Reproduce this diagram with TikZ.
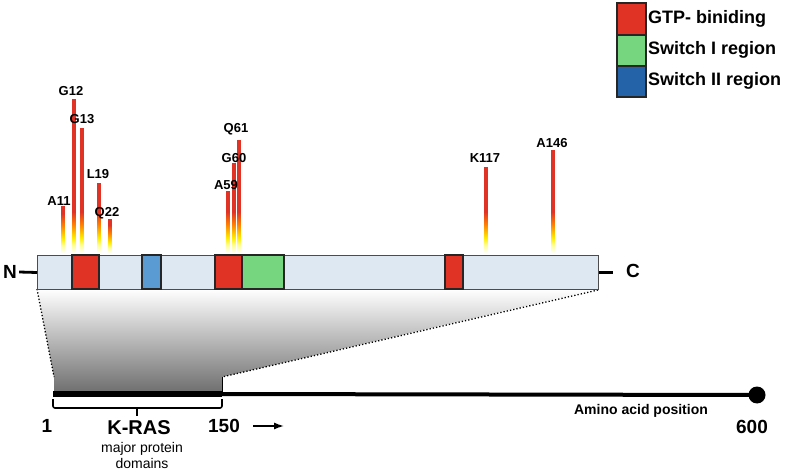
\documentclass[tikz,border=0pt]{standalone}
\usepackage{fontspec}
\setmainfont{Liberation Sans}
\usetikzlibrary{arrows.meta}
\definecolor{gtpred}{HTML}{E03225}
\definecolor{swonegreen}{HTML}{76D67F}
\definecolor{swtwoblue}{HTML}{2563A8}
\definecolor{barblue}{HTML}{5B9BD3}
\definecolor{domfill}{HTML}{DDE8F3}
\pgfdeclareverticalshading{mutfade}{100bp}{color(0bp)=(white); color(25bp)=(white); color(33bp)=(yellow!40); color(41bp)=(yellow!85!orange); color(55bp)=(orange); color(68bp)=(gtpred); color(75bp)=(gtpred); color(100bp)=(gtpred)}
\tikzset{seg/.style={draw=black!85,line width=1.3pt}}
\tikzset{mut/.style={font=\bfseries\fontsize{13}{13}\selectfont,inner sep=0pt}}
\tikzset{big/.style={font=\bfseries\fontsize{19}{19}\selectfont,inner sep=0pt}}
\tikzset{legtxt/.style={font=\bfseries\fontsize{18}{18}\selectfont,inner sep=0pt,anchor=west}}

\begin{document}
\begin{tikzpicture}[x=1pt,y=-1pt]
  \useasboundingbox (0,0) rectangle (785,473);
  % zoom wedge
  \shade[top color=white,bottom color=black!57] (37,289) -- (598,289) -- (222,377) -- (222,393) -- (54,393) -- (54,377) -- cycle;
  \draw[dotted,line width=1.3pt] (37,289) -- (54,377);
  \draw[dotted,line width=1.3pt] (598,290) -- (222,377);
  \draw[line width=1pt] (222,377) -- (222,393);
  % protein bar
  \node[draw=black!70,fill=domfill,line width=1pt,minimum width=561pt,minimum height=34pt,inner sep=0pt,anchor=north west] (prot) at (37,255) {};
  \draw[seg,fill=gtpred] (72,255) rectangle (99,289);
  \draw[seg,fill=barblue] (142,255) rectangle (161,289);
  \draw[seg,fill=gtpred] (215,255) rectangle (242,289);
  \draw[seg,fill=swonegreen] (242,255) rectangle (284,289);
  \draw[seg,fill=gtpred] (445,255) rectangle (463,289);
  \node[big] (nterm) at (10,272) {N};
  \node[big] (cterm) at (633,271) {C};
  \draw[line width=2.8pt] (nterm.east) ++(2,0) -- (prot.west);
  \draw[line width=2.8pt] (prot.east) -- ++(14,0);
  % mutations
  \foreach \x/\t in {63/207, 74/99, 82/128, 99/183, 110/220, 228/191, 234/163, 239/140, 486/167, 553/150}{
    \pgfmathsetmacro\s{max(\t,205)}
    \fill[gtpred] (\x-1.8,\t) rectangle (\x+1.8,\s);
    \shade[shading=mutfade] (\x-1.8,\s) rectangle (\x+1.8,253);
  }
  \foreach \lx/\ly/\lab in {59/201/A11, 71/91/G12, 82/119/G13, 98/174/L19, 107/213/Q22, 226/185/A59, 234/158/G60, 236/129/Q61, 485/158/K117, 552/143/A146}
    \node[mut] (m\lab) at (\lx,\ly) {\lab};
  % legend
  \draw[seg,fill=gtpred] (617,3) rectangle (646,35);
  \draw[seg,fill=swonegreen] (617,35) rectangle (646,66);
  \draw[seg,fill=swtwoblue] (617,66) rectangle (646,97);
  \node[legtxt] (lgtp) at (648,19) {GTP- biniding};
  \node[legtxt] (lsw1) at (648,50) {Switch I region};
  \node[legtxt] (lsw2) at (648,81) {Switch II region};
  % position axis
  \coordinate (ax1) at (53,394);
  \coordinate (ax150) at (222,394);
  \node[circle,fill=black,inner sep=0pt,minimum size=17pt] (axend) at (757,395) {};
  \draw[line width=6pt] (ax1) -- (ax150);
  \draw[line width=4pt] (ax150) -- (axend.center);
  \draw[line width=1.6pt,rounded corners=2pt] (53,399) -- (53,408) -- (222,408) -- (222,399);
  \draw[line width=1.6pt] (137,408) -- (137,416);
  \node[big] (p1) at (47,426) {1};
  \node[big] (p150) at (224,426) {150};
  \node[big] (p600) at (752,427) {600};
  \node[font=\bfseries\fontsize{20}{20}\selectfont,inner sep=0pt] (kras) at (139,428) {K-RAS};
  \node[font=\fontsize{14}{16}\selectfont,align=center,inner sep=0pt] (domtxt) at (142,455) {major protein\\domains};
  \node[font=\bfseries\fontsize{14}{14}\selectfont,inner sep=0pt] (aapos) at (641,411) {Amino acid position};
  \draw[-{Latex[length=10pt,width=7pt]},line width=1.5pt] (p150.east) ++(13,0) -- ++(31,0);
\end{tikzpicture}
\end{document}
